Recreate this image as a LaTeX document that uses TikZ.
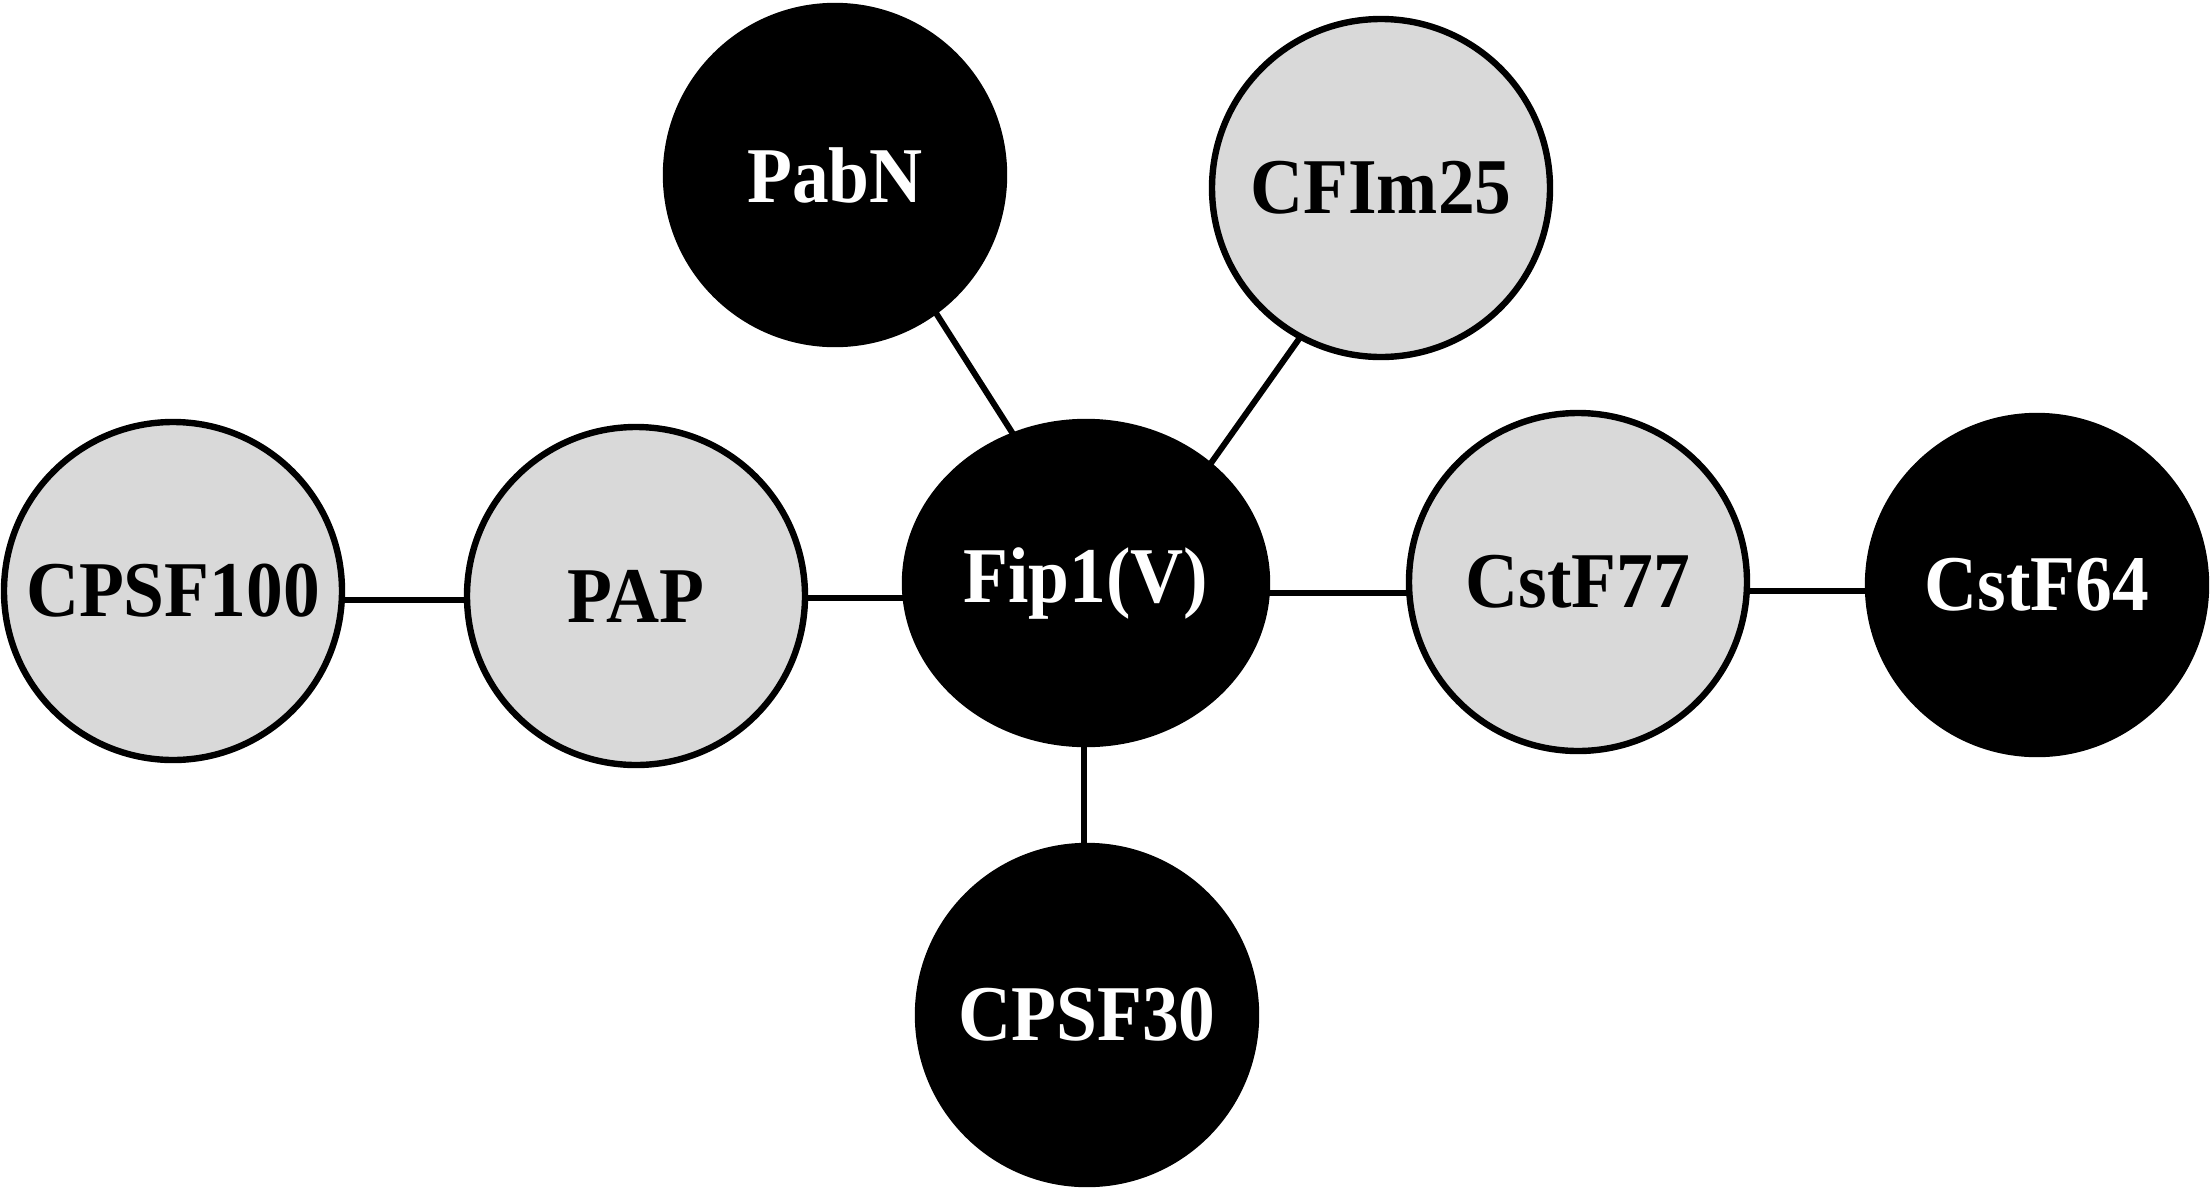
\documentclass[tikz,border=0pt]{standalone}
\usepackage{fontspec}
\setmainfont{Liberation Serif}[FakeStretch=0.93]
\usetikzlibrary{shapes.geometric,calc,backgrounds}
\definecolor{lightg}{RGB}{217,217,217}
\tikzset{
  prot/.style={circle,draw=black,line width=3.2pt,minimum size=169pt,inner sep=0pt,
    font=\fontsize{39.5}{42}\selectfont\bfseries},
  grayprot/.style={prot,fill=lightg,text=black},
  blackprot/.style={prot,fill=black,text=white},
  link/.style={line width=3pt,draw=black}
}
\begin{document}
\begin{tikzpicture}[x=0.5pt,y=-0.5pt]
\useasboundingbox (0,0) rectangle (2212,1189);
\node[grayprot] (cpsf100) at (173,591) {CPSF100};
\node[grayprot] (pap) at (636,596) {PAP};
\node[blackprot,ellipse,minimum width=181pt,minimum height=161pt] (fip) at (1086,583) {Fip1(V)};
\node[blackprot] (pabn) at (835,175) {PabN};
\node[grayprot] (cfim25) at (1381,188) {CFIm25};
\node[grayprot] (cstf77) at (1578,582) {CstF77};
\node[blackprot] (cstf64) at (2037,585) {CstF64};
\node[blackprot] (cpsf30) at (1087,1015) {CPSF30};
\begin{scope}[on background layer]
\draw[link] ($(cpsf100)+(0,9)$) -- ($(pap)+(0,4)$);
\draw[link] ($(pap)+(0,2)$) -- ($(fip)+(0,15)$);
\draw[link] ($(fip)+(0,10)$) -- ($(cstf77)+(0,11)$);
\draw[link] ($(cstf77)+(0,9)$) -- ($(cstf64)+(0,6)$);
\draw[link] ($(fip)+(-2,0)$) -- ($(cpsf30)+(-3,0)$);
\draw[link] ($(pabn)+(13,0)$) -- ($(fip)+(22,0)$);
\draw[link] ($(cfim25)+(25,0)$) -- ($(fip)+(40,0)$);
\end{scope}
\end{tikzpicture}
\end{document}
